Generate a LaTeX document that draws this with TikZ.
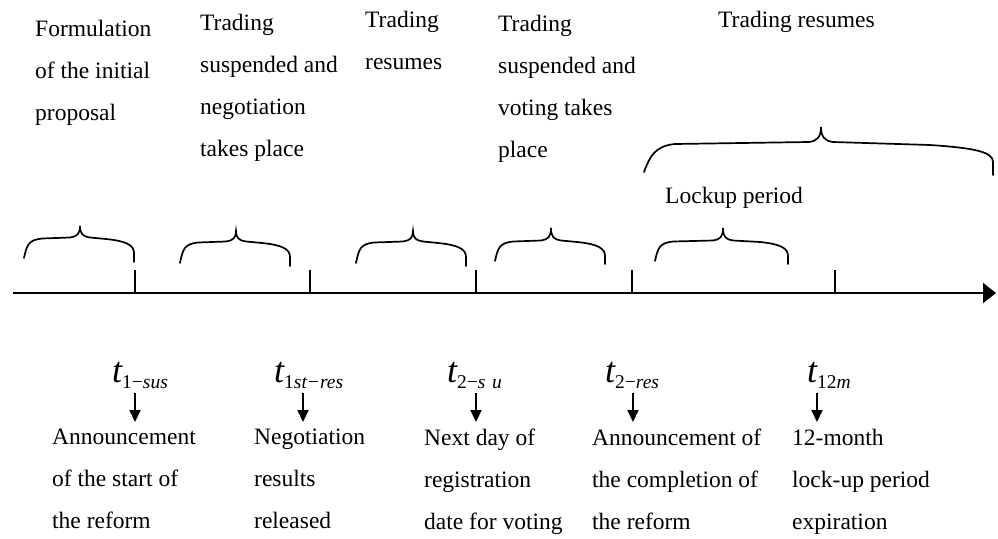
\documentclass[tikz,border=0pt]{standalone}
\usepackage{fontspec}
\setmainfont{Liberation Serif}
\usetikzlibrary{arrows.meta}
\newcommand\curlyb[7]{%
  \draw[bracestyle] (#1,#6) .. controls ({#1+3},{#5+6}) and ({#1+5},{#5+2}) .. ({#1+18},{#5+0.5})
    -- ({#3-10},{#5-0.5}) .. controls ({#3-3},{#5-1.5}) and (#3,{#5-4}) .. (#3,#4)
    .. controls (#3,{#5-4}) and ({#3+3},{#5-1.5}) .. ({#3+10},{#5-0.5})
    -- ({#2-28},{#5+1}) .. controls ({#2-8},{#5+3}) and (#2,{#5+7}) .. (#2,{#5+15}) -- (#2,#7);}
\newcommand\tlab[2]{{\fontsize{36}{36}\selectfont\itshape t}\raisebox{-6pt}{\fontsize{19.5}{20}\selectfont #1\itshape #2}}
\begin{document}
\begin{tikzpicture}[x=1pt,y=-1pt,
  txt/.style={anchor=north west,inner sep=0pt,align=left,font=\fontsize{23.5}{42}\selectfont},
  tl/.style={anchor=base west,inner sep=0pt},
  bracestyle/.style={line width=1.7pt,line cap=round},
  axisline/.style={line width=2.5pt,-{Triangle[length=13pt,width=20pt]}},
  tick/.style={line width=1.5pt},
  dn/.style={line width=2pt,-{Triangle[length=12pt,width=11pt]}}]
\useasboundingbox (0,0) rectangle (998,538);
% top texts
\node[txt] (f) at (35,20) {Formulation\\of the initial\\proposal};
\node[txt] (s1) at (200,14) {Trading\\suspended and\\negotiation\\takes place};
\node[txt] (r1) at (365,11) {Trading\\resumes};
\node[txt] (s2) at (498,15) {Trading\\suspended and\\voting takes\\place};
\node[txt] (r2) at (718,11) {Trading resumes};
\node[txt] (lk) at (665,187) {Lockup period};
% braces
\curlyb{24}{134}{80}{226}{238}{258}{262}
\curlyb{180}{290}{236}{231}{242}{263}{266}
\curlyb{356}{466}{413}{231}{242}{263}{266}
\curlyb{495}{605}{551}{228}{241}{261}{264}
\curlyb{655}{788}{723}{228}{241}{261}{264}
\draw[bracestyle] (644,172) .. controls (650,156) and (655,146) .. (675,144) -- (809,142)
  .. controls (817,141) and (821,137) .. (821,127) .. controls (821,137) and (825,141) .. (833,142)
  -- (930,145) .. controls (975,148) and (993,152) .. (993,162) -- (993,175);
% axis
\coordinate (ax0) at (13,293);
\coordinate (ax1) at (996,293);
\draw[axisline] (ax0) -- (ax1);
\foreach \x [count=\i] in {135,310,476,632,835}{
  \coordinate (tk\i a) at (\x,270);
  \coordinate (tk\i b) at (\x,293);
  \draw[tick] (tk\i a) -- (tk\i b);
}
% t labels
\node[tl] (t1) at (112,382) {\tlab{1−}{sus}};
\node[tl] (t2) at (274,382) {\tlab{1}{st−res}};
\node[tl] (t3) at (447,382) {\tlab{2−}{s\,\,u}};
\node[tl] (t4) at (605,382) {\tlab{2−}{res}};
\node[tl] (t5) at (807,382) {\tlab{12}{m}};
% arrows
\foreach \x [count=\i] in {135,303,476,633,817}{
  \coordinate (ar\i a) at (\x,393);
  \coordinate (ar\i b) at (\x,422);
  \draw[dn] (ar\i a) -- (ar\i b);
}
% bottom texts
\node[txt] (b1) at (52,429) {Announcement\\of the start of\\the reform};
\node[txt] (b2) at (254,429) {Negotiation\\results\\released};
\node[txt] (b3) at (424,429) {Next day of\\registration\\date for voting};
\node[txt] (b4) at (592,429) {Announcement of\\the completion of\\the reform};
\node[txt] (b5) at (792,429) {12-month\\lock-up period\\expiration};
\end{tikzpicture}
\end{document}
